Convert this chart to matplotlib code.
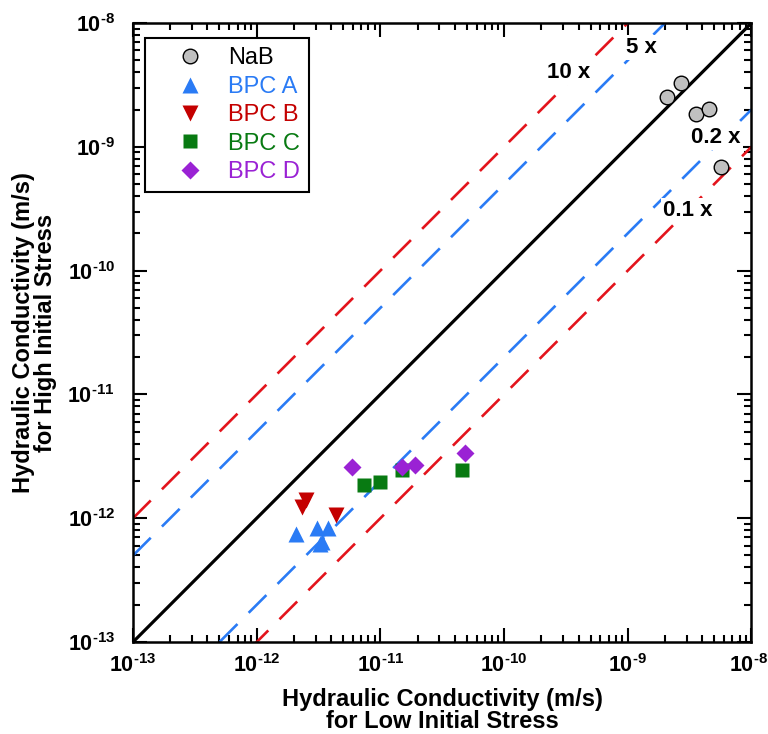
import numpy as np
import matplotlib.pyplot as plt
import matplotlib.transforms as mtransforms
from matplotlib.ticker import LogLocator, NullFormatter

plt.rcParams['font.family'] = ['Liberation Sans', 'DejaVu Sans']
plt.rcParams['font.weight'] = 'bold'
plt.rcParams['mathtext.fontset'] = 'custom'
plt.rcParams['mathtext.rm'] = 'Liberation Sans:bold'
plt.rcParams['mathtext.bf'] = 'Liberation Sans:bold'
plt.rcParams['mathtext.it'] = 'Liberation Sans:bold'

# Data (low initial stress K, high initial stress K), m/s
nab_low = [2.08e-9, 2.68e-9, 3.56e-9, 4.51e-9, 5.64e-9]
nab_high = [2.54e-9, 3.26e-9, 1.84e-9, 2.02e-9, 6.83e-10]

bpca_low = [2.08e-12, 3.07e-12, 3.77e-12, 3.37e-12, 3.25e-12]
bpca_high = [7.45e-13, 8.3e-13, 8.3e-13, 6.4e-13, 6.2e-13]

bpcb_low = [2.5e-12, 2.32e-12, 4.37e-12]
bpcb_high = [1.40e-12, 1.23e-12, 1.06e-12]

bpcc_low = [7.36e-12, 9.9e-12, 1.50e-11, 4.54e-11]
bpcc_high = [1.85e-12, 1.95e-12, 2.45e-12, 2.45e-12]

bpcd_low = [5.86e-12, 1.50e-11, 1.91e-11, 4.83e-11]
bpcd_high = [2.58e-12, 2.58e-12, 2.69e-12, 3.38e-12]

ratios = [10, 5, 0.2, 0.1]
ratio_colors = ['#e3141c', '#2a7bf5', '#2a7bf5', '#e3141c']
ratio_labels = ['10 x', '5 x', '0.2 x', '0.1 x']
label_pos = [(3.3e-10, 4.0e-9), (1.28e-9, 6.3e-9), (5.16e-9, 1.18e-9), (3.07e-9, 3.03e-10)]

fig = plt.figure(figsize=(7.68, 7.34), dpi=100)
ax = fig.add_axes([0.1732, 0.1253, 0.8053, 0.8434])

kx = np.array([1e-13, 1e-8])
ax.plot(kx, kx, color='black', lw=2.3, zorder=2)
for r, c in zip(ratios, ratio_colors):
    ax.plot(kx, kx * r, color=c, lw=1.9, dashes=(9.5, 6), zorder=2)

ax.plot(nab_low, nab_high, 'o', ms=10.5, mfc='#c0c0c0', mec='black', mew=1.0,
        label='NaB', zorder=4)
ax.plot(bpca_low, bpca_high, '^', ms=11, color='#2a7bf5', mec='none',
        label='BPC A', zorder=4)
ax.plot(bpcb_low, bpcb_high, 'v', ms=11, color='#c40000', mec='none',
        label='BPC B', zorder=4)
ax.plot(bpcc_low, bpcc_high, 's', ms=10, color='#087a12', mec='none',
        label='BPC C', zorder=4)
ax.plot(bpcd_low, bpcd_high, 'D', ms=9.5, color='#9a22d4', mec='none',
        label='BPC D', zorder=4)

ax.set_xscale('log')
ax.set_yscale('log')
ax.set_xlim(1e-13, 1e-8)
ax.set_ylim(1e-13, 1e-8)

decades = [1e-13, 1e-12, 1e-11, 1e-10, 1e-9, 1e-8]
labels = [r'$10^{\text{-}%d}$' % int(round(-np.log10(d))) for d in decades]
ax.set_xticks(decades)
ax.set_xticklabels(labels)
ax.set_yticks(decades)
ax.set_yticklabels(labels)
ax.xaxis.set_minor_locator(LogLocator(base=10, subs=np.arange(2, 10)))
ax.yaxis.set_minor_locator(LogLocator(base=10, subs=np.arange(2, 10)))
ax.xaxis.set_minor_formatter(NullFormatter())
ax.yaxis.set_minor_formatter(NullFormatter())
ax.tick_params(which='both', direction='in', top=True, right=True, width=1.5)
ax.tick_params(which='major', length=10, labelsize=15.5)
ax.tick_params(axis='x', which='major', pad=9)
ax.tick_params(axis='y', which='major', pad=13)
ax.tick_params(which='minor', length=5)
for s in ax.spines.values():
    s.set_linewidth(1.8)

# keep the last x tick label inside the figure
last = ax.get_xticklabels()[-1]
last.set_transform(last.get_transform() +
                   mtransforms.ScaledTranslation(-3 / 100, 0, fig.dpi_scale_trans))

ax.set_xlabel('Hydraulic Conductivity (m/s)\nfor Low Initial Stress',
              fontsize=17, fontweight='bold', linespacing=0.95)
ax.set_ylabel('Hydraulic Conductivity (m/s)\nfor High Initial Stress',
              fontsize=17, fontweight='bold', linespacing=0.95)
ax.xaxis.set_label_coords(0.5, -0.074)
ax.yaxis.set_label_coords(-0.1235, 0.5)

for (tx, ty), s in zip(label_pos, ratio_labels):
    ax.text(tx, ty, s, fontsize=16, fontweight='bold', ha='center', va='center',
            zorder=3, bbox=dict(facecolor='white', edgecolor='none', pad=1.5))

leg = ax.legend(loc='upper left', bbox_to_anchor=(0.0194, 0.9758), fancybox=False,
                edgecolor='black', framealpha=1, fontsize=17, handlelength=3.0,
                handletextpad=0.1, labelspacing=0.27, borderpad=0.4,
                borderaxespad=0)
leg.get_frame().set_linewidth(1.5)
text_colors = ['black', '#2a7bf5', '#c40000', '#087a12', '#9a22d4']
for t, c in zip(leg.get_texts(), text_colors):
    t.set_color(c)
    t.set_fontweight('normal')

fig.savefig('out.png', dpi=100)
